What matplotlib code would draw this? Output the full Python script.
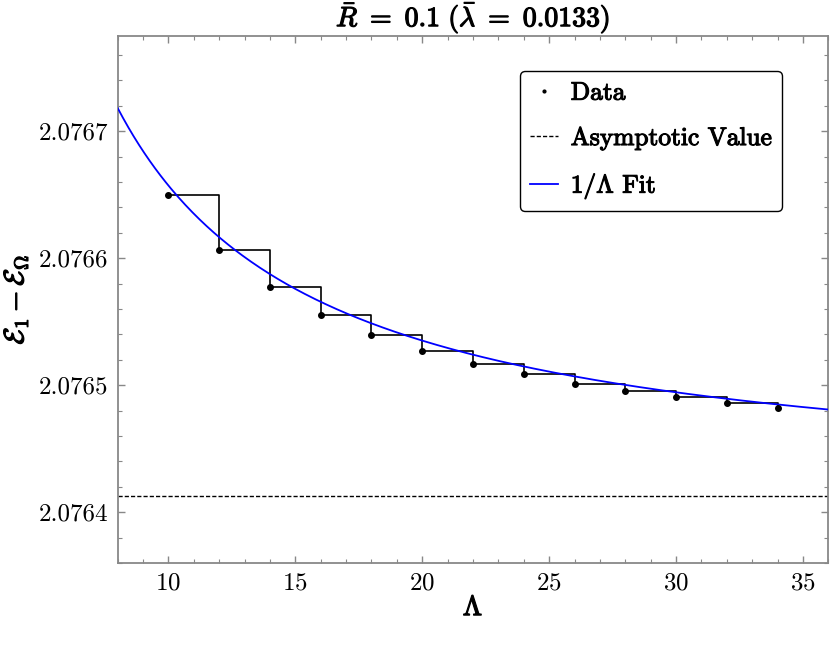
import numpy as np
import matplotlib
matplotlib.use("Agg")
import matplotlib.pyplot as plt
import matplotlib.patheffects as pe
from matplotlib.ticker import MultipleLocator, FormatStrFormatter

plt.rcParams['mathtext.fontset'] = 'cm'
plt.rcParams['font.family'] = ['cmr10', 'DejaVu Serif']
plt.rcParams['axes.formatter.use_mathtext'] = True

# data
lam = [10, 12, 14, 16, 18, 20, 22, 24, 26, 28, 30, 32, 34]
energy = [2.0766498, 2.0766063, 2.0765770, 2.0765556, 2.0765396, 2.0765268,
          2.0765168, 2.0765086, 2.0765013, 2.0764953, 2.0764911, 2.0764861,
          2.0764824]
asymptote = 2.0764130
fit_slope = 0.0024430   # coefficient of the 1/Lambda term
x_range = (8, 36)

# fake a heavier weight for the CM glyphs
bold = [pe.withStroke(linewidth=0.9, foreground='black')]

fig = plt.figure(figsize=(8.3, 6.45), dpi=100)
ax = fig.add_axes([0.1417, 0.1271, 0.8563, 0.8171])

lam_fine = np.linspace(x_range[0], x_range[1], 400)
ax.plot(lam_fine, asymptote + fit_slope / lam_fine, color='#0000ff', lw=1.3,
        label=r'$1/\Lambda$ Fit', zorder=3)
ax.step(lam, energy, where='post', color='black', lw=1.2, zorder=2)
ax.plot(lam, energy, 'o', color='black', ms=4, zorder=4, ls='none',
        label='Data')
ax.axhline(asymptote, color='black', ls=(0, (3, 1.5)), lw=1.0,
           label='Asymptotic Value', zorder=2)

ax.set_xlim(*x_range)
ax.set_ylim(2.07636, 2.076775)

ax.xaxis.set_major_locator(MultipleLocator(5))
ax.xaxis.set_minor_locator(MultipleLocator(1))
ax.yaxis.set_major_locator(MultipleLocator(0.0001))
ax.yaxis.set_minor_locator(MultipleLocator(0.00002))
ax.yaxis.set_major_formatter(FormatStrFormatter('%.4f'))

for s in ax.spines.values():
    s.set_color('#888888')
    s.set_linewidth(1.3)
ax.tick_params(which='both', direction='in', top=True, right=True,
               color='#888888', labelsize=18, pad=7)
ax.tick_params(which='major', length=5, width=1)
ax.tick_params(which='minor', length=3, width=0.8)

xl = ax.set_xlabel(r'$\Lambda$', fontsize=20, labelpad=0)
yl = ax.set_ylabel(r'$\mathcal{E}_1 - \mathcal{E}_\Omega$', fontsize=20, labelpad=6)
tt = ax.set_title(r'$\bar{R}\ =\ 0.1\ (\bar{\lambda}\ =\ 0.0133)$',
                  fontsize=20, pad=7)
for t in (xl, yl, tt):
    t.set_path_effects(bold)

handles, labels = ax.get_legend_handles_labels()
order = [1, 2, 0]
leg = ax.legend([handles[i] for i in order], [labels[i] for i in order],
                loc='upper right', bbox_to_anchor=(0.935, 0.934),
                fontsize=18.3, handlelength=1.1, handletextpad=0.5,
                labelspacing=0.85, borderpad=0.4, borderaxespad=0,
                fancybox=True, framealpha=1, edgecolor='black',
                markerscale=0.5)
leg.get_frame().set_linewidth(1.0)
for t in leg.get_texts():
    t.set_path_effects([pe.withStroke(linewidth=0.8, foreground='black')])

fig.savefig('out.png', dpi=100)
